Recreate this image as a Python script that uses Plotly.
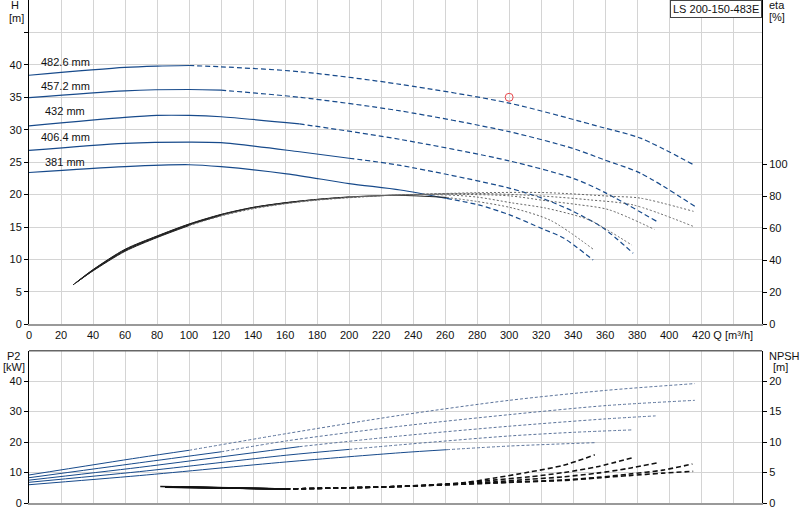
import plotly.graph_objects as go

# Impeller diameters
DIAMETERS = ["381 mm", "406.4 mm", "432 mm", "457.2 mm", "482.6 mm"]

# Q/H curves [m3/h] / [m]
Q_H_381 = [0, 60, 100, 120, 161, 200, 232, 261, 281, 300, 321, 334, 352.5]
H_381 = [23.4, 24.3, 24.6, 24.3, 23.2, 21.7, 20.7, 19.4, 18.4, 16.9, 14.7, 13.3, 9.9]
Q_H_406 = [0, 60, 100, 120, 169, 200, 232, 300, 321, 340, 359, 377.5]
H_406 = [26.8, 27.9, 28.1, 28.0, 26.6, 25.6, 24.5, 21.0, 19.4, 17.4, 14.8, 10.95]
Q_H_432 = [0, 60, 80, 100, 120, 169, 232, 300, 340, 360, 392]
H_432 = [30.6, 31.9, 32.2, 32.2, 32.0, 30.9, 28.5, 25.2, 22.5, 20.3, 15.9]
Q_H_457 = [0, 60, 100, 120, 169, 232, 300, 340, 359, 382, 416]
H_457 = [34.95, 36.0, 36.2, 36.1, 35.0, 32.9, 29.7, 27.1, 25.4, 23.3, 18.2]
Q_H_483 = [0, 60, 80, 100, 120, 169, 232, 300, 359, 382, 416]
H_483 = [38.4, 39.6, 39.8, 39.9, 39.7, 38.95, 37.0, 34.1, 30.3, 28.7, 24.5]

# efficiency curves [%]
Q_ETA_381 = [27.5, 40, 60, 80, 100, 120, 140, 160, 180, 200, 230, 261, 279, 302, 326, 352.7]
ETA_381 = [24.6, 34.2, 46.9, 55.2, 62.7, 68.7, 73.1, 76.0, 78.1, 79.6, 80.6, 79.3, 76.9, 72.7, 64.9, 46.8]
Q_ETA_406 = [28.5, 40, 60, 80, 100, 120, 140, 160, 180, 200, 230, 260, 280, 301.7, 322.5, 343, 351.7, 376.7]
ETA_406 = [25.3, 34.0, 46.6, 55.0, 62.5, 68.5, 73.0, 75.9, 78.0, 79.5, 80.8, 80.9, 79.5, 75.9, 72.7, 67.6, 64.5, 49.5]
Q_ETA_432 = [29.5, 40, 60, 80, 100, 120, 140, 169, 200, 230, 260, 300, 322.5, 343, 362, 390.8]
ETA_432 = [26.0, 33.8, 46.3, 54.8, 62.3, 68.3, 72.8, 76.8, 79.4, 80.8, 81.3, 80.3, 77.3, 74.8, 71.7, 59.3]
Q_ETA_457 = [30.5, 40, 60, 80, 100, 120, 140, 160, 180, 200, 230, 280, 320, 350, 377.5, 414.8]
ETA_457 = [26.8, 33.6, 46.0, 54.5, 62.0, 68.0, 72.5, 75.5, 77.8, 79.3, 80.8, 81.8, 80.2, 77.8, 74.6, 61.3]
Q_ETA_483 = [31.5, 40, 60, 80, 100, 120, 140, 160, 180, 200, 230, 280, 322.5, 364, 381.7, 415.2]
ETA_483 = [27.5, 33.4, 45.6, 54.2, 61.7, 67.7, 72.2, 75.3, 77.6, 79.1, 80.8, 82.2, 82.3, 80.0, 78.9, 70.6]

# shaft power P2 [kW]
Q_P2_381 = [0, 69, 161, 232, 261, 300, 353.5]
P2_381 = [6.0, 9.0, 13.5, 16.5, 17.5, 18.7, 19.8]
Q_P2_406 = [0, 69, 161, 200, 232, 300, 340, 377]
P2_406 = [6.8, 10.3, 15.7, 17.6, 19.1, 22.0, 23.2, 24.0]
Q_P2_432 = [0, 69, 169, 232, 300, 360, 391.5]
P2_432 = [7.5, 11.7, 18.5, 22.0, 25.2, 27.6, 28.6]
Q_P2_457 = [0, 69, 120, 161, 232, 300, 361, 416]
P2_457 = [8.3, 13.2, 16.8, 20.4, 25.2, 29.0, 32.0, 33.7]
Q_P2_483 = [0, 69, 100, 161, 232, 300, 361, 416]
P2_483 = [9.2, 14.9, 17.3, 22.8, 28.8, 33.7, 37.0, 39.2]

# NPSH [m]
Q_NPSH_381 = [100, 160, 230, 250, 271, 292, 313, 334, 353.5]
NPSH_381 = [2.6, 2.3, 2.7, 2.95, 3.3, 4.15, 5.1, 6.2, 7.9]
Q_NPSH_406 = [95, 160, 230, 271, 292, 313, 334, 355, 378]
NPSH_406 = [2.6, 2.3, 2.7, 3.3, 3.8, 4.3, 5.0, 5.95, 7.5]
Q_NPSH_432 = [90, 160, 230, 292, 313, 334, 355, 375, 392.7]
NPSH_432 = [2.6, 2.3, 2.7, 3.5, 3.9, 4.3, 4.9, 5.7, 6.6]
Q_NPSH_457 = [85, 160, 230, 292, 334, 355, 375, 396, 414.5]
NPSH_457 = [2.6, 2.3, 2.7, 3.3, 3.8, 4.2, 4.75, 5.4, 6.4]
Q_NPSH_483 = [82, 160, 230, 300, 334, 355, 375, 396, 415]
NPSH_483 = [2.7, 2.3, 2.7, 3.4, 3.7, 4.1, 4.5, 4.9, 5.2]

# duty point
DUTY_Q = [300]
DUTY_H = [35]

# flow where each curve turns from solid to broken
SPLIT_Q = [261, 200, 169, 120, 100]
NPSH_SPLIT = 160

Q_TICKS = list(range(0, 441, 20))
Q_LABELS = [str(v) for v in range(0, 421, 20)] + ["Q [m³/h]"]

NAVY = "#174a8b"
FONT = "Liberation Sans, Arial, sans-serif"

h_sets = [(Q_H_381, H_381), (Q_H_406, H_406), (Q_H_432, H_432), (Q_H_457, H_457), (Q_H_483, H_483)]
eta_sets = [(Q_ETA_381, ETA_381), (Q_ETA_406, ETA_406), (Q_ETA_432, ETA_432),
            (Q_ETA_457, ETA_457), (Q_ETA_483, ETA_483)]
p2_sets = [(Q_P2_381, P2_381), (Q_P2_406, P2_406), (Q_P2_432, P2_432), (Q_P2_457, P2_457), (Q_P2_483, P2_483)]
npsh_sets = [(Q_NPSH_381, NPSH_381), (Q_NPSH_406, NPSH_406), (Q_NPSH_432, NPSH_432),
             (Q_NPSH_457, NPSH_457), (Q_NPSH_483, NPSH_483)]


def add_split(fig, q, v, q_split, xaxis, yaxis, solid, broken):
    """solid part up to q_split, broken part after it"""
    i = max(k for k, x in enumerate(q) if x <= q_split)
    for part_q, part_v, style in ((q[:i + 1], v[:i + 1], solid), (q[i:], v[i:], broken)):
        if len(part_q) < 2:
            continue
        fig.add_trace(go.Scatter(
            x=part_q, y=part_v, mode="lines", xaxis=xaxis, yaxis=yaxis,
            line=dict(shape="spline", smoothing=0.8, **style),
            hoverinfo="skip", showlegend=False
        ))


fig = go.Figure()

for (q, v), s in zip(eta_sets, SPLIT_Q):
    add_split(fig, q, v, s, "x", "y3",
              dict(color="#222222", width=1),
              dict(color="#666666", width=1, dash="2px,2px"))

for (q, v), s in zip(h_sets, SPLIT_Q):
    add_split(fig, q, v, s, "x", "y",
              dict(color=NAVY, width=1.2),
              dict(color=NAVY, width=1.2, dash="5px,3px"))

for (q, v), s in zip(p2_sets, SPLIT_Q):
    add_split(fig, q, v, s, "x2", "y2",
              dict(color=NAVY, width=1),
              dict(color="#5b739a", width=1, dash="3px,2px"))

for q, v in npsh_sets:
    add_split(fig, q, v, NPSH_SPLIT, "x2", "y4",
              dict(color="#111111", width=1.6),
              dict(color="#111111", width=1.6, dash="5px,3px"))

fig.add_trace(go.Scatter(
    x=DUTY_Q, y=DUTY_H, mode="markers", xaxis="x", yaxis="y",
    marker=dict(symbol="circle-open", size=8, color="#e8474c", line=dict(width=1)),
    hoverinfo="skip", showlegend=False
))

# diameter labels
label_pos = [(22.3, 25.0), (22.9, 28.9), (22.3, 32.9), (22.9, 36.75), (22.9, 40.45)]
annotations = []
for name, (ax, ay) in zip(DIAMETERS, label_pos):
    annotations.append(dict(x=ax, y=ay, xref="x", yref="y", text=name, showarrow=False,
                            font=dict(size=11, color="#111")))

axis_font = dict(family=FONT, size=11, color="#111")
# unit labels beside the axes, one line each (paper coords from pixel positions)
unit_labels = [
    ("H", -0.0191, 0.9891, "center"), ("[m]", -0.0164, 0.9652, "center"),
    ("eta", 1.0064, 0.9891, "left"), ("[%]", 1.0064, 0.9662, "left"),
    ("P2", -0.0209, 0.2932, "center"), ("[kW]", -0.0209, 0.2710, "center"),
    ("NPSH", 1.0064, 0.2922, "left"), ("[m]", 1.0246, 0.2704, "center"),
]
for txt, x, y, anchor in unit_labels:
    annotations.append(dict(x=x, y=y, xref="paper", yref="paper", text=txt, showarrow=False,
                            xanchor=anchor, yanchor="middle", font=axis_font))

annotations.append(dict(x=1.0, y=1.0, xref="paper", yref="paper", text="LS 200-150-483E",
                        showarrow=False, xanchor="right", yanchor="top",
                        bordercolor="#444", borderwidth=1, borderpad=2, bgcolor="white",
                        font=axis_font))

grid = "#d4d4d4"
TOP = [0.3553, 1.0]
BOTTOM = [0.0, 0.3028]

fig.update_layout(
    width=800, height=520,
    margin=dict(l=29, r=38, t=0, b=17, autoexpand=False),
    paper_bgcolor="white", plot_bgcolor="white",
    font=axis_font,
    showlegend=False,
    annotations=annotations,
    xaxis=dict(domain=[0, 1], anchor="y", range=[0, 458], tickvals=Q_TICKS, ticktext=Q_LABELS,
               showgrid=True, gridcolor=grid, showline=True, linecolor="#999", linewidth=2,
               ticks="", zeroline=False, automargin=False),
    yaxis=dict(domain=TOP, anchor="x", range=[0, 50], tickvals=list(range(0, 46, 5)),
               ticktext=[str(v) for v in range(0, 41, 5)] + [""],
               showgrid=True, gridcolor=grid, showline=True, linecolor="#000", linewidth=1,
               ticks="outside", ticklen=4, tickcolor="#000", zeroline=False, automargin=False),
    yaxis3=dict(overlaying="y", side="right", anchor="x", range=[0, 202.7],
                tickvals=list(range(0, 101, 20)), showgrid=False, showline=True,
                linecolor="#000", linewidth=1, ticks="outside", ticklen=4, tickcolor="#000",
                zeroline=False, automargin=False),
    xaxis2=dict(domain=[0, 1], anchor="y2", range=[0, 458], tickvals=Q_TICKS,
                showticklabels=False, showgrid=True, gridcolor=grid, showline=True,
                linecolor="#999", linewidth=2, ticks="", zeroline=False, automargin=False),
    yaxis2=dict(domain=BOTTOM, anchor="x2", range=[0, 50], tickvals=list(range(0, 41, 10)),
                showgrid=True, gridcolor=grid, showline=True, linecolor="#000", linewidth=1,
                ticks="outside", ticklen=4, tickcolor="#000", zeroline=False, automargin=False),
    yaxis4=dict(overlaying="y2", side="right", anchor="x2", range=[0, 25],
                tickvals=list(range(0, 21, 5)), showgrid=False, showline=True,
                linecolor="#000", linewidth=1, ticks="outside", ticklen=4, tickcolor="#000",
                zeroline=False, automargin=False),
    shapes=[dict(type="line", xref="paper", yref="paper", x0=0, x1=1, y0=BOTTOM[1], y1=BOTTOM[1],
                 line=dict(color="#666", width=1.5))],
)

# page body has a default 8px margin; drop it so the figure sits at the window corner
fig.write_html("out.html", config={"displayModeBar": False},
               post_script="document.body.style.margin='0px';")
